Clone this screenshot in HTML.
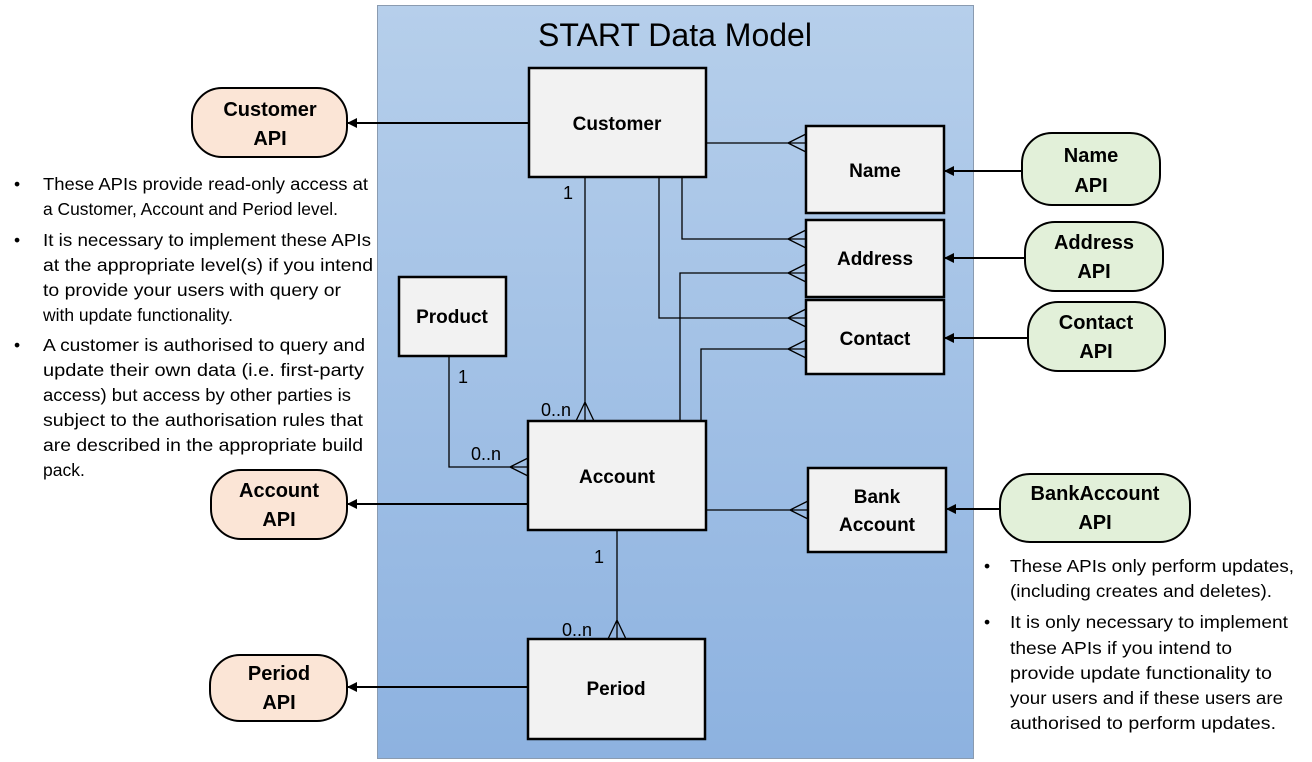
<!DOCTYPE html>
<html><head><meta charset="utf-8"><style>
html,body{margin:0;padding:0;background:#fff;}
svg{display:block;font-family:"Liberation Sans",sans-serif;}
.b{fill:#f2f2f2;stroke:#000;stroke-width:2.5}
.l{stroke:#000;stroke-width:1.3;fill:none}
.t{font-weight:bold;font-size:19px;text-anchor:middle}
.p{font-size:17.5px}
</style></head><body>
<svg width="1312" height="762" viewBox="0 0 1312 762">
<defs>
<linearGradient id="g" x1="0" y1="0" x2="0" y2="1"><stop offset="0" stop-color="#b6cfeb"/><stop offset="1" stop-color="#8db2e0"/></linearGradient>
<marker id="ar" markerWidth="10" markerHeight="10" refX="9" refY="5" orient="auto" markerUnits="userSpaceOnUse"><path d="M0,0 L10,5 L0,10z" fill="#000"/></marker>
</defs>
<rect x="377.5" y="5.5" width="596" height="753" fill="url(#g)" stroke="#8a9bb0" stroke-width="1"/>
<text x="675" y="46" font-size="32" text-anchor="middle">START Data Model</text>

<g class="l">
<path d="M706,143 H806 M788,143 L806,134 M788,143 L806,152"/>
<path d="M682,177 V239 H806 M788,239 L806,230 M788,239 L806,248"/>
<path d="M680,421 V273 H806 M788,273 L806,264 M788,273 L806,282"/>
<path d="M659,177 V318 H806 M788,318 L806,309 M788,318 L806,327"/>
<path d="M701,421 V349 H806 M788,349 L806,340 M788,349 L806,358"/>
<path d="M585,177 V421 M585,402 L576,421 M585,402 L594,421"/>
<path d="M449,356 V467 H528 M510,467 L528,458 M510,467 L528,476"/>
<path d="M617,530 V639 M617,620 L608,639 M617,620 L626,639"/>
<path d="M706,510 H808 M790,510 L808,501 M790,510 L808,519"/>
</g>
<g stroke="#000" stroke-width="2" marker-end="url(#ar)">
<line x1="529" y1="123" x2="348" y2="123"/>
<line x1="528" y1="504" x2="348" y2="504"/>
<line x1="528" y1="687" x2="348" y2="687"/>
<line x1="1022" y1="171" x2="945" y2="171"/>
<line x1="1025" y1="258" x2="945" y2="258"/>
<line x1="1028" y1="338" x2="945" y2="338"/>
<line x1="1000" y1="509" x2="947" y2="509"/>
</g>
<g font-size="18">
<text x="563" y="199">1</text>
<text x="541" y="416">0..n</text>
<text x="458" y="383">1</text>
<text x="471" y="460">0..n</text>
<text x="594" y="563">1</text>
<text x="562" y="636">0..n</text>
</g>

<rect class="b" x="529" y="68" width="177" height="109"/><text class="t" x="617" y="130">Customer</text>
<rect class="b" x="806" y="126" width="138" height="87"/><text class="t" x="875" y="177">Name</text>
<rect class="b" x="806" y="220" width="138" height="77"/><text class="t" x="875" y="265">Address</text>
<rect class="b" x="806" y="300" width="138" height="74"/><text class="t" x="875" y="345">Contact</text>
<rect class="b" x="399" y="277" width="107" height="79"/><text class="t" x="452" y="323">Product</text>
<rect class="b" x="528" y="421" width="178" height="109"/><text class="t" x="617" y="483">Account</text>
<rect class="b" x="808" y="468" width="138" height="84"/><text class="t" x="877" y="503">Bank</text><text class="t" x="877" y="531">Account</text>
<rect class="b" x="528" y="639" width="177" height="100"/><text class="t" x="616" y="695">Period</text>

<g stroke="#000" stroke-width="2">
<rect x="192" y="88" width="155" height="69" rx="30" fill="#fbe5d6"/>
<rect x="211" y="470" width="136" height="69" rx="30" fill="#fbe5d6"/>
<rect x="210" y="655" width="137" height="66" rx="30" fill="#fbe5d6"/>
<rect x="1022" y="133" width="138" height="72" rx="30" fill="#e2f0d9"/>
<rect x="1025" y="222" width="138" height="69" rx="30" fill="#e2f0d9"/>
<rect x="1028" y="302" width="137" height="69" rx="30" fill="#e2f0d9"/>
<rect x="1000" y="474" width="190" height="68" rx="30" fill="#e2f0d9"/>
</g>
<g class="t" style="font-size:20px;font-weight:bold">
<text x="270" y="116">Customer</text><text x="270" y="145">API</text>
<text x="279" y="497">Account</text><text x="279" y="526">API</text>
<text x="279" y="680">Period</text><text x="279" y="709">API</text>
<text x="1091" y="162">Name</text><text x="1091" y="192">API</text>
<text x="1094" y="249">Address</text><text x="1094" y="278">API</text>
<text x="1096" y="329">Contact</text><text x="1096" y="358">API</text>
<text x="1095" y="500">BankAccount</text><text x="1095" y="529">API</text>
</g>

<g class="p">
<text x="14" y="190">•</text><text x="14" y="246">•</text><text x="14" y="351">•</text>
<text x="43" y="190" textLength="325" lengthAdjust="spacingAndGlyphs">These APIs provide read-only access at</text>
<text x="43" y="215" textLength="295" lengthAdjust="spacingAndGlyphs">a Customer, Account and Period level.</text>
<text x="43" y="246" textLength="328" lengthAdjust="spacingAndGlyphs">It is necessary to implement these APIs</text>
<text x="43" y="271" textLength="330" lengthAdjust="spacingAndGlyphs">at the appropriate level(s) if you intend</text>
<text x="43" y="296" textLength="298" lengthAdjust="spacingAndGlyphs">to provide your users with query or</text>
<text x="43" y="321" textLength="190" lengthAdjust="spacingAndGlyphs">with update functionality.</text>
<text x="43" y="351" textLength="322" lengthAdjust="spacingAndGlyphs">A customer is authorised to query and</text>
<text x="43" y="376" textLength="321" lengthAdjust="spacingAndGlyphs">update their own data (i.e. first-party</text>
<text x="43" y="401" textLength="308" lengthAdjust="spacingAndGlyphs">access) but access by other parties is</text>
<text x="43" y="426" textLength="320" lengthAdjust="spacingAndGlyphs">subject to the authorisation rules that</text>
<text x="43" y="451" textLength="320" lengthAdjust="spacingAndGlyphs">are described in the appropriate build</text>
<text x="43" y="476">pack.</text>
</g>
<g class="p">
<text x="984" y="572">•</text><text x="984" y="628">•</text>
<text x="1010" y="572" textLength="284" lengthAdjust="spacingAndGlyphs">These APIs only perform updates,</text>
<text x="1010" y="597" textLength="262" lengthAdjust="spacingAndGlyphs">(including creates and deletes).</text>
<text x="1010" y="628" textLength="278" lengthAdjust="spacingAndGlyphs">It is only necessary to implement</text>
<text x="1010" y="654" textLength="222" lengthAdjust="spacingAndGlyphs">these APIs if you intend to</text>
<text x="1010" y="679" textLength="262" lengthAdjust="spacingAndGlyphs">provide update functionality to</text>
<text x="1010" y="704" textLength="273" lengthAdjust="spacingAndGlyphs">your users and if these users are</text>
<text x="1010" y="729" textLength="266" lengthAdjust="spacingAndGlyphs">authorised to perform updates.</text>
</g>
</svg>
</body></html>
